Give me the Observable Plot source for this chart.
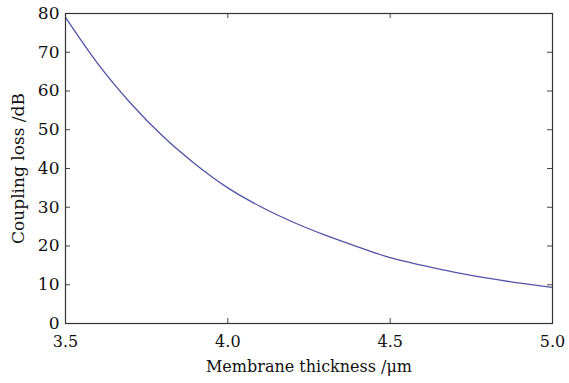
<!DOCTYPE html>
<html>
<head>
<meta charset="utf-8">
<script src="https://cdn.jsdelivr.net/npm/d3@7"></script>
<script src="https://cdn.jsdelivr.net/npm/@observablehq/plot@0.6"></script>
<style>
  html, body { margin: 0; padding: 0; background: #ffffff; }
  #chart svg { display: block; }
</style>
</head>
<body>
<div id="chart"></div>
<script>
// Membrane thickness (µm) and coupling loss (dB)
const thickness = [3.5, 3.6, 3.7, 3.8, 3.9, 4.0, 4.1, 4.2, 4.3, 4.4, 4.5, 4.6, 4.7, 4.8, 4.9, 5.0];
const couplingLoss = [79.0, 67.0, 56.9, 48.3, 41.1, 35.0, 30.2, 26.2, 22.8, 19.8, 17.0, 15.0, 13.2, 11.7, 10.4, 9.3];

const xTicks = [3.5, 4.0, 4.5, 5.0];
const yTicks = [0, 10, 20, 30, 40, 50, 60, 70, 80];

const data = thickness.map((t, i) => ({thickness: t, loss: couplingLoss[i]}));

const W = 569, H = 383;
const mL = 65, mR = 17, mT = 13, mB = 60;
const fw = W - mL - mR, fh = H - mT - mB;
const tk = 5; // inward tick length

const chart = Plot.plot({
  width: W,
  height: H,
  marginLeft: mL,
  marginRight: mR,
  marginTop: mT,
  marginBottom: mB,
  style: {fontFamily: "'DejaVu Serif', 'Liberation Serif', serif", fontSize: "16px", color: "#111", background: "#fff"},
  x: {domain: [3.5, 5.0]},
  y: {domain: [0, 80]},
  marks: [
    // inward ticks on all four sides
    Plot.tickX(xTicks, {x: d => d, insetTop: fh - tk, stroke: "#444"}),
    Plot.tickX(xTicks, {x: d => d, insetBottom: fh - tk, stroke: "#444"}),
    Plot.tickY(yTicks, {y: d => d, insetRight: fw - tk, stroke: "#444"}),
    Plot.tickY(yTicks, {y: d => d, insetLeft: fw - tk, stroke: "#444"}),
    Plot.axisX(xTicks, {tickSize: 0, tickPadding: 12, tickFormat: d3.format(".1f"),
      label: "Membrane thickness /μm", labelAnchor: "center", labelArrow: "none", labelOffset: 48}),
    Plot.axisY(yTicks, {tickSize: 0, tickPadding: 6, tickFormat: d3.format("d"), fontSize: 17,
      label: "Coupling loss /dB", labelAnchor: "center", labelArrow: "none", labelOffset: 54}),
    Plot.line(data, {x: "thickness", y: "loss", stroke: "#5353a6", strokeWidth: 1.3, curve: "monotone-x"}),
    Plot.frame({stroke: "#333", strokeWidth: 1.2})
  ]
});

document.getElementById("chart").appendChild(chart);
</script>
</body>
</html>
